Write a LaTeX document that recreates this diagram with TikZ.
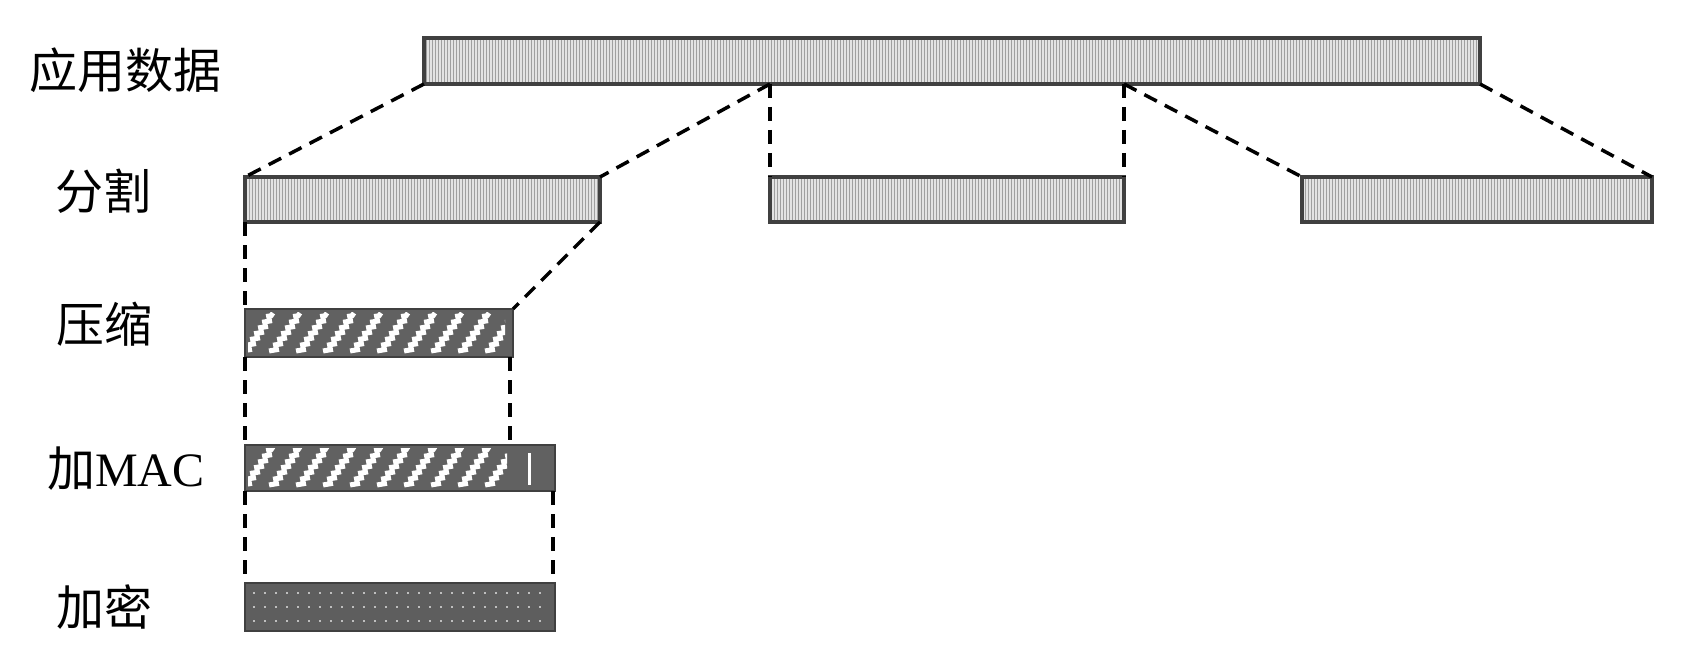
\documentclass[tikz,border=0pt]{standalone}
\usepackage{fontspec}
\newfontfamily\cjk{Noto Sans CJK SC}
\newfontfamily\lserif{Liberation Serif}
\usetikzlibrary{patterns,decorations.pathmorphing,calc}
\begin{document}
\begin{tikzpicture}[x=1pt,y=-1pt,
  lab/.style={inner sep=0pt, font=\fontsize{48}{48}\selectfont\cjk},
  segbox/.style={preaction={fill=gray!22}, pattern=vertical lines,
     pattern color=gray!75, draw=black!75, line width=4.5pt,
     inner sep=0pt, outer sep=0pt, anchor=north west},
  hatchbox/.style={draw=black!75, line width=1.5pt, fill=black!62,
     inner sep=0pt, outer sep=0pt, anchor=north west},
  encbox/.style={draw=black!75, line width=1.5pt, fill=black!63,
     inner sep=0pt, outer sep=0pt, anchor=north west},
  conn/.style={black, line width=3.5pt, dash pattern=on 14pt off 9pt},
  stripe/.style={white, line width=5pt, decorate,
     decoration={zigzag, segment length=7pt, amplitude=1.8pt}},
  speck/.style={gray!50, line width=2pt, dash pattern=on 2pt off 9pt}
]
\useasboundingbox (0,0) rectangle (1685,655);

% labels
\node[lab] (l1) at (125,70) {应用数据};
\node[lab] (l2) at (103,191) {分割};
\node[lab] (l3) at (104,324) {压缩};
\node[lab] (l4) at (126,469) {加{\lserif MAC}};
\node[lab] (l5) at (104,607) {加密};

% boxes
\node[segbox, minimum width=1056pt, minimum height=46pt] (A) at (424,38) {};
\node[segbox, minimum width=355pt, minimum height=45pt] (S1) at (245,177) {};
\node[segbox, minimum width=354pt, minimum height=45pt] (S2) at (770,177) {};
\node[segbox, minimum width=350pt, minimum height=45pt] (S3) at (1302,177) {};
\node[hatchbox, minimum width=268pt, minimum height=48pt] (C) at (245,309) {};
\node[hatchbox, minimum width=310pt, minimum height=46pt] (M) at (245,445) {};
\node[encbox, minimum width=310pt, minimum height=48pt] (E) at (245,583) {};

% hatching of compressed data
\begin{scope}
  \clip ($(C.north west)+(3,3)$) rectangle ($(C.south east)+(-8,-3)$);
  \foreach \x in {0,27,...,270}
    \draw[stripe] ($(C.south west)+(\x,-4)$) -- ++(28,-40);
\end{scope}
\begin{scope}
  \clip ($(M.north west)+(3,3)$) rectangle ($(M.north west)+(262,43)$);
  \foreach \x in {0,27,...,270}
    \draw[stripe] ($(M.south west)+(\x,-4)$) -- ++(28,-40);
\end{scope}
\draw[white, line width=3pt] ($(M.north west)+(284,8)$) -- ++(0,32);

% specks of encrypted data
\foreach \dy in {10,24,38}
  \draw[speck] ($(E.north west)+(8,\dy)$) -- ($(E.north east)+(-6,\dy)$);

% connectors
\draw[conn] (A.south west) -- (S1.north west);
\draw[conn] (S2.north west |- A.south) -- (S1.north east);
\draw[conn] (S2.north west |- A.south) -- (S2.north west);
\draw[conn] (S2.north east |- A.south) -- (S2.north east);
\draw[conn] (S2.north east |- A.south) -- (S3.north west);
\draw[conn] (A.south east) -- (S3.north east);
\draw[conn] (S1.south west) -- (C.north west);
\draw[conn] (S1.south east) -- (C.north east);
\draw[conn] (C.south west) -- (M.north west);
\draw[conn] ($(C.south east)+(-3,0)$) -- ($(C.south east |- M.north)+(-3,0)$);
\draw[conn] (M.south west) -- (E.north west);
\draw[conn] ($(M.south east)+(-2,0)$) -- ($(E.north east)+(-2,0)$);
\end{tikzpicture}
\end{document}
